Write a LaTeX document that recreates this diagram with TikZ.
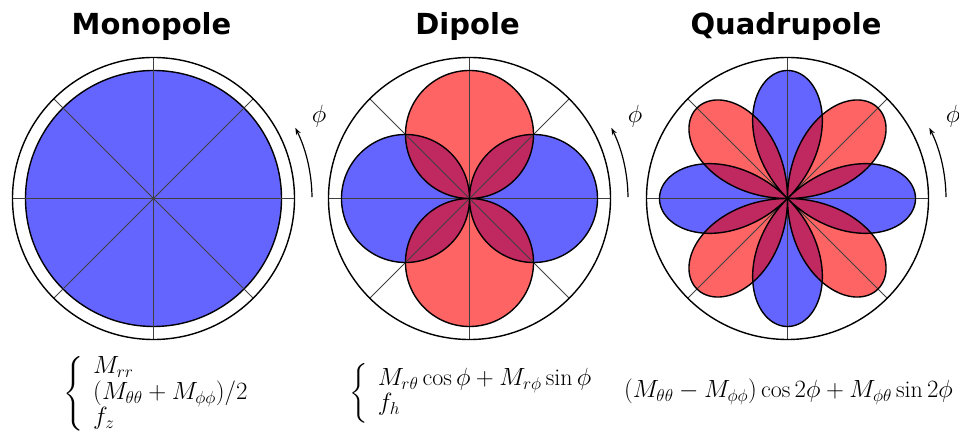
\documentclass[tikz,border=0pt]{standalone}
\usepackage{amsmath}
\usepackage{fontspec}
\newfontfamily\titlefont{DejaVu Sans}
\usepackage{tikz}
\usetikzlibrary{arrows.meta}
\definecolor{lobeblue}{RGB}{100,100,255}
\definecolor{lobered}{RGB}{255,100,100}
\definecolor{lobemix}{RGB}{192,40,96}

\tikzset{
  rim/.style={line width=1.4pt},
  spoke/.style={black!75,line width=0.8pt},
  lobe/.style={line width=1.4pt,line join=round},
  paneltitle/.style={font=\titlefont\bfseries\fontsize{29}{30}\selectfont,anchor=base,inner sep=0pt},
  formula/.style={font=\fontsize{24}{25}\selectfont,inner sep=0pt},
  philabel/.style={font=\fontsize{34}{36}\selectfont,inner sep=0pt},
  phiarrow/.style={-{Stealth[length=7pt,width=5pt]},line width=1.2pt},
}

\begin{document}
\begin{tikzpicture}[x=1pt,y=1pt]
  \useasboundingbox (0,0) rectangle (959,436);
  % ---------------- Monopole ----------------
  \begin{scope}[shift={(153.5,237.5)}]
    \node[paneltitle] (monoTitle) at (-2,163.5) {Monopole};
    \fill[lobeblue] (0,0) circle[radius=128];
    \draw[lobe] (0,0) circle[radius=128];
    \foreach \a in {0,45,...,315}
      \draw[spoke] (0,0) -- (\a:141);
    \draw[rim] (0,0) circle[radius=141];
    \coordinate (monoArr) at (0.5:158.5);
    \draw[phiarrow] (monoArr) arc[start angle=0.5,end angle=26.5,radius=158.5];
    \node[philabel] (monoPhi) at (26.4:185) {$\phi$};
    \node[formula,anchor=west] (monoForm) at (-90.5,-195.5)
      {$\left\{\begin{array}{@{\hspace{10pt}}l@{}}
        M_{rr}\\ (M_{\theta\theta}+M_{\phi\phi})/2\\ f_z
      \end{array}\right.$};
  \end{scope}
  % ---------------- Dipole ----------------
  \begin{scope}[shift={(469.5,237.5)}]
    \node[paneltitle] (diTitle) at (-2,163.5) {Dipole};
    \fill[lobeblue] plot[domain=0:360,samples=361,variable=\t] (\t:{128*abs(cos(\t))}) -- cycle;
    \fill[lobered] plot[domain=0:360,samples=361,variable=\t] (\t:{128*abs(sin(\t))}) -- cycle;
    \fill[lobemix] plot[domain=0:360,samples=361,variable=\t]
      (\t:{128*min(abs(cos(\t)),abs(sin(\t)))}) -- cycle;
    \foreach \a in {0,45,...,315}
      \draw[spoke] (0,0) -- (\a:141);
    \draw[lobe] plot[domain=0:360,samples=361,variable=\t] (\t:{128*abs(cos(\t))}) -- cycle;
    \draw[lobe] plot[domain=0:360,samples=361,variable=\t] (\t:{128*abs(sin(\t))}) -- cycle;
    \draw[rim] (0,0) circle[radius=141];
    \coordinate (diArr) at (0.5:158.5);
    \draw[phiarrow] (diArr) arc[start angle=0.5,end angle=26.5,radius=158.5];
    \node[philabel] (diPhi) at (26.4:185) {$\phi$};
    \node[formula,anchor=west] (diForm) at (-120.5,-195)
      {$\left\{\begin{array}{@{\hspace{10pt}}l@{}}
        M_{r\theta}\cos\phi+M_{r\phi}\sin\phi\\ f_h
      \end{array}\right.$};
  \end{scope}
  % ---------------- Quadrupole ----------------
  \begin{scope}[shift={(787.5,237.5)}]
    \node[paneltitle] (quadTitle) at (-1.5,163.5) {Quadrupole};
    \fill[lobeblue] plot[domain=0:360,samples=721,variable=\t] (\t:{128*abs(cos(2*\t))}) -- cycle;
    \fill[lobered] plot[domain=0:360,samples=721,variable=\t] (\t:{128*abs(sin(2*\t))}) -- cycle;
    \fill[lobemix] plot[domain=0:360,samples=721,variable=\t]
      (\t:{128*min(abs(cos(2*\t)),abs(sin(2*\t)))}) -- cycle;
    \foreach \a in {0,45,...,315}
      \draw[spoke] (0,0) -- (\a:141);
    \draw[lobe] plot[domain=0:360,samples=721,variable=\t] (\t:{128*abs(cos(2*\t))}) -- cycle;
    \draw[lobe] plot[domain=0:360,samples=721,variable=\t] (\t:{128*abs(sin(2*\t))}) -- cycle;
    \draw[rim] (0,0) circle[radius=141];
    \coordinate (quadArr) at (0.5:158.5);
    \draw[phiarrow] (quadArr) arc[start angle=0.5,end angle=26.5,radius=158.5];
    \node[philabel] (quadPhi) at (26.4:185) {$\phi$};
    \node[formula,anchor=base] (quadForm) at (1,-199.5)
      {$(M_{\theta\theta}-M_{\phi\phi})\cos2\phi+M_{\phi\theta}\sin2\phi$};
  \end{scope}
\end{tikzpicture}
\end{document}
